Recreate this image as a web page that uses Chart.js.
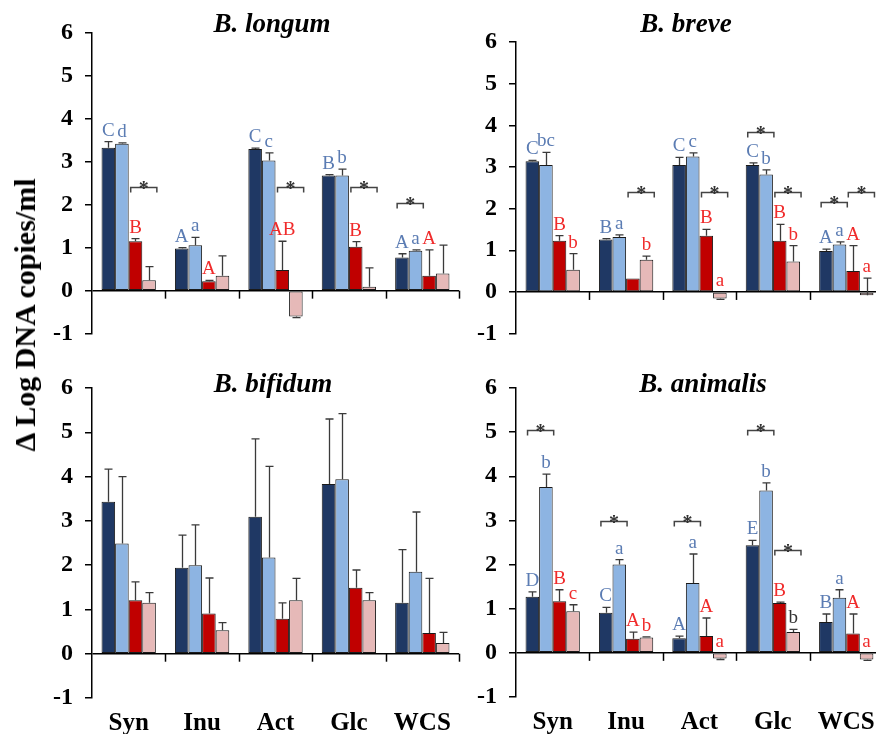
<!DOCTYPE html>
<html><head><meta charset="utf-8">
<script src="https://cdn.jsdelivr.net/npm/chart.js@4.4.1/dist/chart.umd.min.js"></script>
<style>
html,body{margin:0;padding:0;background:#fff;overflow:hidden;width:876px;height:734px;position:relative;}
canvas{position:absolute;}
#ytitle{position:absolute;left:25px;top:315px;transform:translate(-50%,-50%) rotate(-90deg);font:bold 30px "Liberation Serif";white-space:nowrap;color:#000;}
</style></head><body>
<canvas id="c1" width="470" height="360" style="left:0;top:0;width:470px;height:360px"></canvas>
<canvas id="c2" width="450" height="360" style="left:436px;top:0;width:450px;height:360px"></canvas>
<canvas id="c3" width="470" height="374" style="left:0;top:360px;width:470px;height:374px"></canvas>
<canvas id="c4" width="450" height="374" style="left:436px;top:360px;width:450px;height:374px"></canvas>
<div id="ytitle">Δ Log DNA copies/ml</div>
<script>
// ---------- DATA ----------
const categories = ['Syn', 'Inu', 'Act', 'Glc', 'WCS'];
const yTicks = [-1, 0, 1, 2, 3, 4, 5, 6];
const seriesNames = ['Series 1', 'Series 2', 'Series 3', 'Series 4'];

// B. longum
const longumS1 = [3.33, 0.98, 3.30, 2.68, 0.77];
const longumS1Err = [0.14, 0.02, 0.02, 0.02, 0.09];
const longumS2 = [3.42, 1.06, 3.03, 2.68, 0.93];
const longumS2Err = [0.02, 0.18, 0.18, 0.15, 0.02];
const longumS3 = [1.15, 0.22, 0.48, 1.02, 0.35];
const longumS3Err = [0.06, 0.02, 0.67, 0.12, 0.60];
const longumS4 = [0.24, 0.35, -0.60, 0.09, 0.40];
const longumS4Err = [0.32, 0.46, -0.03, 0.44, 0.66];
const longumLetters = [['C','d','B',''],['A','a','A',''],['C','c','AB',''],['B','b','B',''],['A','a','A','']];
const longumSig = [[0,2,2.42],[2,2,2.42],[3,2,2.42],[4,0,2.03]];

// B. breve
const breveS1 = [3.14, 1.26, 3.05, 3.05, 0.98];
const breveS1Err = [0.02, 0.02, 0.18, 0.05, 0.05];
const breveS2 = [3.05, 1.32, 3.25, 2.82, 1.14];
const breveS2Err = [0.30, 0.05, 0.09, 0.11, 0.06];
const breveS3 = [1.23, 0.32, 1.35, 1.23, 0.50];
const breveS3Err = [0.12, 0.0, 0.15, 0.39, 0.61];
const breveS4 = [0.53, 0.77, -0.16, 0.73, -0.08];
const breveS4Err = [0.39, 0.09, -0.02, 0.38, 0.41];
const breveLetters = [['C','bc','B','b'],['B','a','','b'],['C','c','B','a'],['C','b','B','b'],['A','a','A','a']];
const breveSig = [[1,2,2.41],[2,2,2.41],[3,0,3.83],[3,2,2.41],[4,0,2.17],[4,2,2.41]];

// B. bifidum
const bifidumS1 = [3.43, 1.94, 3.09, 3.83, 1.15];
const bifidumS1Err = [0.74, 0.74, 1.76, 1.47, 1.20];
const bifidumS2 = [2.49, 2.00, 2.17, 3.94, 1.85];
const bifidumS2Err = [1.51, 0.91, 2.06, 1.48, 1.35];
const bifidumS3 = [1.21, 0.91, 0.79, 1.49, 0.47];
const bifidumS3Err = [0.41, 0.80, 0.36, 0.40, 1.23];
const bifidumS4 = [1.15, 0.53, 1.21, 1.21, 0.24];
const bifidumS4Err = [0.23, 0.17, 0.49, 0.17, 0.24];
const bifidumLetters = [];
const bifidumSig = [];

// B. animalis
const animalisS1 = [1.27, 0.91, 0.33, 2.44, 0.70];
const animalisS1Err = [0.11, 0.12, 0.05, 0.11, 0.18];
const animalisS2 = [3.76, 2.00, 1.58, 3.68, 1.25];
const animalisS2Err = [0.29, 0.11, 0.66, 0.17, 0.18];
const animalisS3 = [1.17, 0.32, 0.38, 1.13, 0.44];
const animalisS3Err = [0.26, 0.15, 0.41, 0.02, 0.44];
const animalisS4 = [0.94, 0.35, -0.13, 0.47, -0.15];
const animalisS4Err = [0.15, 0.01, -0.02, 0.06, -0.02];
const animalisLetters = [['D','b','B','c'],['C','a','A','b'],['A','a','A','a'],['E','b','B','b'],['B','a','A','a']];
const animalisSig = [[0,0,5.04],[1,0,2.98],[2,0,2.98],[3,0,5.04],[3,2,2.32]];
const animalisDarkLetters = [[3,3]];

// ---------- STYLE ----------
const BAR_COLORS = ['#1f3864', '#8db4e2', '#c00000', '#e6b9b8'];
const LETTER_COLORS = ['#5b7cb3', '#5b7cb3', '#f02b2b', '#f02b2b'];
const SERIF = '"Liberation Serif", "Times New Roman", serif';

function extrasPlugin(p) {
  return {
    id: 'extras',
    afterDatasetsDraw(chart) {
      const ctx = chart.ctx;
      const ys = chart.scales.y, xs = chart.scales.x;
      const y0 = ys.getPixelForValue(0);
      const half = (xs.getPixelForValue(1) - xs.getPixelForValue(0)) / 2;
      ctx.save();
      ctx.strokeStyle = '#000'; ctx.lineWidth = 1.5;
      for (let i = 0; i < categories.length; i++) {
        const bx = Math.round(xs.getPixelForValue(i) + half) + 0.5;
        ctx.beginPath(); ctx.moveTo(bx, y0); ctx.lineTo(bx, y0 + 8); ctx.stroke();
      }
      // error bars
      ctx.strokeStyle = '#3a3a3a'; ctx.lineWidth = 1.3;
      p.values.forEach((vals, d) => {
        const meta = chart.getDatasetMeta(d);
        vals.forEach((v, i) => {
          const e = p.errors[d][i];
          if (!e) return;
          const el = meta.data[i];
          const x = Math.round(el.x) + 0.5;
          const ya = ys.getPixelForValue(v), yb = ys.getPixelForValue(v + e);
          ctx.beginPath(); ctx.moveTo(x, ya); ctx.lineTo(x, yb);
          ctx.moveTo(x - 4, yb); ctx.lineTo(x + 4, yb); ctx.stroke();
        });
      });
      // letters
      ctx.font = '19px ' + SERIF;
      ctx.textAlign = 'center'; ctx.textBaseline = 'alphabetic';
      p.letters.forEach((row, i) => {
        row.forEach((txt, d) => {
          if (!txt) return;
          const v = p.values[d][i], e = p.errors[d][i];
          const top = Math.max(0, v, e > 0 ? v + e : v);
          const el = chart.getDatasetMeta(d).data[i];
          const dark = (p.dark || []).some(a => a[0] === i && a[1] === d);
          ctx.fillStyle = dark ? '#333' : LETTER_COLORS[d];
          ctx.fillText(txt, el.x, ys.getPixelForValue(top) - 6);
        });
      });
      // significance brackets
      p.sig.forEach(([i, d, level]) => {
        const a = chart.getDatasetMeta(d).data[i];
        const b = chart.getDatasetMeta(d + 1).data[i];
        const x1 = a.x - a.width / 2 + 2, x2 = b.x + b.width / 2 + 1;
        const y = Math.round(ys.getPixelForValue(level)) + 0.5;
        ctx.strokeStyle = '#444'; ctx.lineWidth = 1.5;
        ctx.beginPath(); ctx.moveTo(x1, y + 5); ctx.lineTo(x1, y); ctx.lineTo(x2, y); ctx.lineTo(x2, y + 5); ctx.stroke();
        ctx.fillStyle = '#333'; ctx.font = 'bold 20px ' + SERIF;
        ctx.fillText('*', (x1 + x2) / 2, y + 7);
      });
      // title
      ctx.fillStyle = '#000';
      ctx.font = 'bold italic 27px ' + SERIF;
      ctx.fillText(p.title, p.titleX, p.titleY);
      ctx.restore();
    }
  };
}

function makeChart(id, p) {
  return new Chart(document.getElementById(id), {
    type: 'bar',
    data: {
      labels: categories,
      datasets: p.values.map((vals, d) => ({
        label: seriesNames[d], data: vals,
        backgroundColor: BAR_COLORS[d], borderColor: '#1a1a1a', borderWidth: 1,
        borderSkipped: false, categoryPercentage: 0.74, barPercentage: 1.0
      }))
    },
    options: {
      responsive: false, animation: false, devicePixelRatio: 1,
      layout: { padding: { top: p.padTop, right: p.padRight, left: 0, bottom: 0 } },
      plugins: { legend: { display: false }, tooltip: { enabled: false }, title: { display: false } },
      scales: {
        x: {
          grid: { display: false, drawTicks: false }, border: { display: false },
          ticks: { display: p.showLabels, padding: 11, color: '#000', font: { family: SERIF, size: 25, weight: 'bold' } },
          afterFit: s => { s.height = p.xHeight; }
        },
        y: {
          min: yTicks[0], max: yTicks[yTicks.length - 1],
          afterBuildTicks: s => { s.ticks = yTicks.map(v => ({ value: v })); },
          border: { display: true, color: '#000', width: 1.5 },
          grid: {
            drawOnChartArea: true, drawTicks: true, tickLength: 7, lineWidth: 1.5,
            color: c => (c.tick && c.tick.value === 0) ? '#000' : 'rgba(0,0,0,0)',
            tickColor: '#000'
          },
          ticks: { padding: 12, color: '#000', font: { family: SERIF, size: 24, weight: 'bold' } },
          afterFit: s => { s.width = p.yWidth; }
        }
      }
    },
    plugins: [extrasPlugin(p)]
  });
}

makeChart('c1', {
  title: 'B. longum', titleX: 272, titleY: 32,
  values: [longumS1, longumS2, longumS3, longumS4],
  errors: [longumS1Err, longumS2Err, longumS3Err, longumS4Err],
  letters: longumLetters, sig: longumSig,
  padTop: 33, padRight: 11, yWidth: 92, xHeight: 17, showLabels: false
});
makeChart('c2', {
  title: 'B. breve', titleX: 250, titleY: 32,
  values: [breveS1, breveS2, breveS3, breveS4],
  errors: [breveS1Err, breveS2Err, breveS3Err, breveS4Err],
  letters: breveLetters, sig: breveSig,
  padTop: 42, padRight: 3, yWidth: 80, xHeight: 9, showLabels: false
});
makeChart('c3', {
  title: 'B. bifidum', titleX: 273, titleY: 32,
  values: [bifidumS1, bifidumS2, bifidumS3, bifidumS4],
  errors: [bifidumS1Err, bifidumS2Err, bifidumS3Err, bifidumS4Err],
  letters: bifidumLetters, sig: bifidumSig,
  padTop: 28, padRight: 11, yWidth: 92, xHeight: 36, showLabels: true
});
makeChart('c4', {
  title: 'B. animalis', titleX: 267, titleY: 32,
  values: [animalisS1, animalisS2, animalisS3, animalisS4],
  errors: [animalisS1Err, animalisS2Err, animalisS3Err, animalisS4Err],
  letters: animalisLetters, sig: animalisSig, dark: animalisDarkLetters,
  padTop: 28, padRight: 3, yWidth: 80, xHeight: 37, showLabels: true
});
</script>
</body></html>
